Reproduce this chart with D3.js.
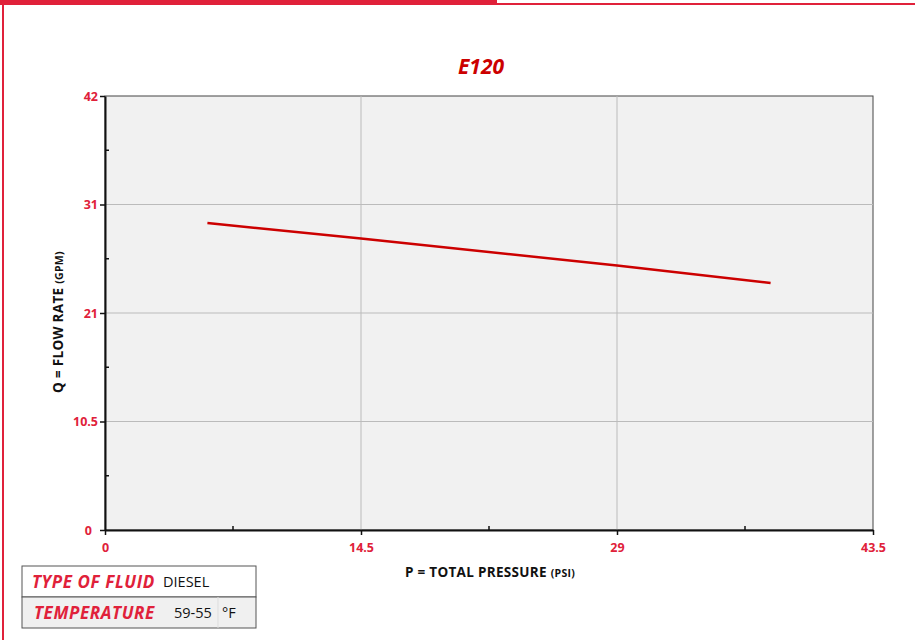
<!DOCTYPE html>
<html>
<head>
<meta charset="utf-8">
<script src="https://cdn.jsdelivr.net/npm/d3@7"></script>
<style>
  body { margin: 0; background: #fff; }
  svg { display: block; font-family: "Open Sans", Lato, sans-serif; }
</style>
</head>
<body>
<div id="chart"></div>
<script>
// data
const pressure = [5.8, 14.5, 29, 37.7];
const flowRate = [29.7, 28.2, 25.6, 23.9];
const xTicks = [0, 14.5, 29, 43.5];
const xTickLabels = ["0", "14.5", "29", "43.5"];
const yTicks = [0, 10.5, 21, 31.5, 42];
const yTickLabels = ["0", "10.5", "21", "31", "42"];
const fluidRows = [
    { label: "TYPE OF FLUID", value: "DIESEL", unit: "" },
    { label: "TEMPERATURE", value: "59-55", unit: "°F" }
];

const red = "#e0213a", darkRed = "#cc0000";
const W = 915, H = 640;
const margin = { top: 96, right: 42, bottom: 110, left: 105 },
    width = W - margin.left - margin.right,
    height = H - margin.top - margin.bottom;

const root = d3.select("#chart").append("svg")
    .attr("width", W)
    .attr("height", H);

// page frame
root.append("rect").attr("x", 0).attr("y", 0).attr("width", 497).attr("height", 5).style("fill", red);
root.append("rect").attr("x", 497).attr("y", 3).attr("width", W - 497).attr("height", 2).style("fill", red);
root.append("rect").attr("x", 2).attr("y", 0).attr("width", 2).attr("height", H).style("fill", red);

root.append("text")
    .attr("x", margin.left + width / 2 - 8)
    .attr("y", 74)
    .attr("text-anchor", "middle")
    .style("font-size", "21px")
    .style("font-weight", "bold")
    .style("font-style", "italic")
    .style("fill", darkRed)
    .text("E120");

const svg = root.append("g")
    .attr("transform", `translate(${margin.left},${margin.top})`);

const x = d3.scaleLinear().domain([0, 43.5]).range([0, width]);
const y = d3.scaleLinear().domain([0, 42]).range([height, 0]);

svg.append("rect")
    .attr("width", width)
    .attr("height", height)
    .style("fill", "#f1f1f1")
    .style("stroke", "#444")
    .style("stroke-width", 1);

// grid
svg.append("g")
    .selectAll("line")
    .data(xTicks.slice(1, -1))
    .enter().append("line")
    .attr("x1", d => x(d)).attr("x2", d => x(d))
    .attr("y1", 0).attr("y2", height)
    .style("stroke", "#bbb");

svg.append("g")
    .selectAll("line")
    .data(yTicks.slice(1, -1))
    .enter().append("line")
    .attr("x1", 0).attr("x2", width)
    .attr("y1", d => y(d)).attr("y2", d => y(d))
    .style("stroke", "#bbb");

const line = d3.line()
    .x((d, i) => x(pressure[i]))
    .y(d => y(d));

svg.append("path")
    .datum(flowRate)
    .attr("fill", "none")
    .attr("stroke", darkRed)
    .attr("stroke-width", 2.5)
    .attr("d", line);

// minor ticks at halves
const xMinor = d3.pairs(xTicks).map(p => (p[0] + p[1]) / 2);
const yMinor = d3.pairs(yTicks).map(p => (p[0] + p[1]) / 2);

const xAxisGroup = svg.append("g")
    .attr("transform", `translate(0,${height})`)
    .call(d3.axisBottom(x).tickValues(xTicks).tickSize(5).tickSizeOuter(0)
        .tickFormat((d, i) => xTickLabels[i]));
xAxisGroup.select(".domain").style("stroke", "#111").style("stroke-width", 2);
xAxisGroup.selectAll("line").style("stroke", "#111").style("stroke-width", 1.5);
xAxisGroup.selectAll("text")
    .attr("dy", "1.15em")
    .style("fill", red)
    .style("font-size", "12.5px")
    .style("font-weight", "bold")
    .style("font-family", "'Open Sans', sans-serif");

svg.append("g")
    .selectAll("line")
    .data(xMinor)
    .enter().append("line")
    .attr("x1", d => x(d)).attr("x2", d => x(d))
    .attr("y1", height - 4).attr("y2", height)
    .style("stroke", "#111").style("stroke-width", 1.5);

const yAxisGroup = svg.append("g")
    .call(d3.axisLeft(y).tickValues(yTicks).tickSize(5).tickSizeOuter(0)
        .tickFormat((d, i) => yTickLabels[i]));
yAxisGroup.select(".domain").style("stroke", "#111").style("stroke-width", 2);
yAxisGroup.selectAll("line").style("stroke", "#111").style("stroke-width", 1.5);
yAxisGroup.selectAll("text")
    .attr("x", -7)
    .style("fill", red)
    .style("font-size", "12.5px")
    .style("font-weight", "bold")
    .style("font-family", "'Open Sans', sans-serif");
yAxisGroup.selectAll(".tick").filter(d => d === 0).select("text").attr("x", -13);

svg.append("g")
    .selectAll("line")
    .data(yMinor)
    .enter().append("line")
    .attr("x1", 0).attr("x2", 4)
    .attr("y1", d => y(d)).attr("y2", d => y(d))
    .style("stroke", "#111").style("stroke-width", 1.5);

// axis labels
const xLabel = svg.append("text")
    .attr("x", width / 2 + 1)
    .attr("y", height + 47)
    .attr("text-anchor", "middle")
    .style("font-size", "13.5px")
    .style("font-weight", "bold")
    .style("letter-spacing", "0.3px")
    .style("fill", "#111");
xLabel.append("tspan").text("P = TOTAL PRESSURE ");
xLabel.append("tspan").style("font-size", "10.5px").text(" (PSI)");

const yLabel = svg.append("text")
    .attr("transform", "rotate(-90)")
    .attr("x", -(height / 2) - 9)
    .attr("y", -42)
    .attr("text-anchor", "middle")
    .style("font-size", "13.5px")
    .style("font-weight", "bold")
    .style("letter-spacing", "0.3px")
    .style("fill", "#111");
yLabel.append("tspan").text("Q = FLOW RATE ");
yLabel.append("tspan").style("font-size", "10.5px").text(" (GPM)");

// fluid table
const table = root.append("g").attr("transform", "translate(22,566)");
const rowH = 31;

const rows = table.selectAll(".row")
    .data(fluidRows)
    .enter().append("g")
    .attr("class", "row")
    .attr("transform", (d, i) => `translate(0,${i * rowH})`);

rows.append("rect")
    .attr("width", 234)
    .attr("height", rowH)
    .style("fill", (d, i) => i === 0 ? "#fff" : "#f0f0f0")
    .style("stroke", "#555")
    .style("stroke-width", 1);

rows.filter((d, i) => i === 1).append("line")
    .attr("x1", 196).attr("x2", 196)
    .attr("y1", 0).attr("y2", rowH)
    .style("stroke", "#ddd");

rows.append("text")
    .attr("x", (d, i) => i === 0 ? 10 : 12)
    .attr("y", 22)
    .style("font-size", "17px")
    .style("font-weight", "bold")
    .style("font-style", "italic")
    .style("letter-spacing", "0.6px")
    .style("fill", red)
    .text(d => d.label);

rows.append("text")
    .attr("x", (d, i) => i === 0 ? 141 : 152)
    .attr("y", 21)
    .style("font-size", "14.5px")
    .style("fill", "#111")
    .text(d => d.value);

rows.append("text")
    .attr("x", 200)
    .attr("y", 21)
    .style("font-size", "14.5px")
    .style("fill", "#111")
    .text(d => d.unit);
</script>
</body>
</html>
